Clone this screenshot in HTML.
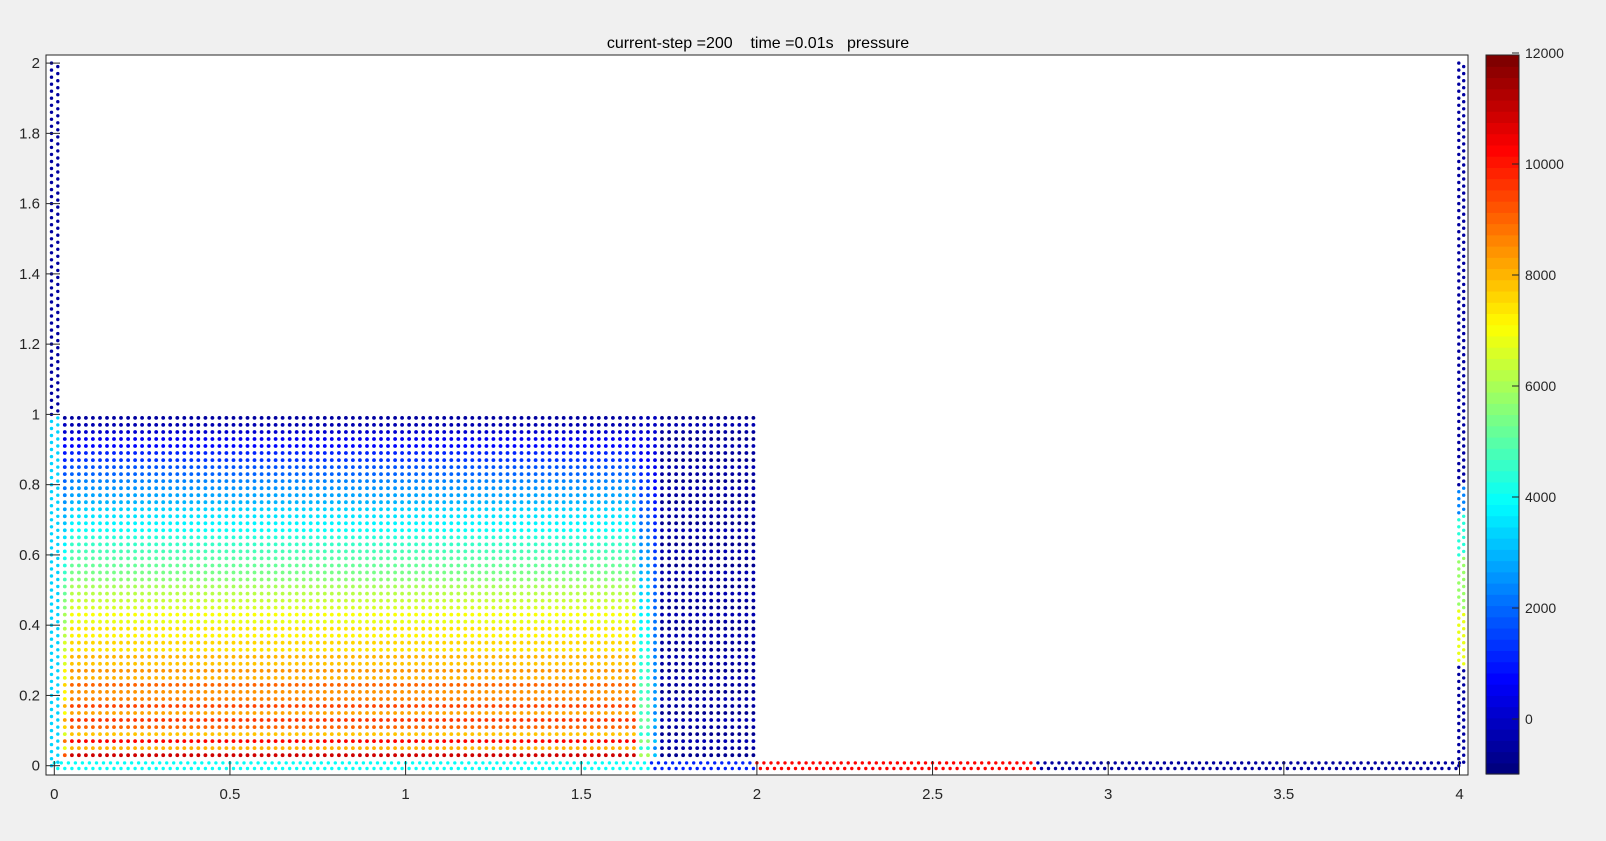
<!DOCTYPE html>
<html><head><meta charset="utf-8"><style>
html,body{margin:0;padding:0;background:#f0f0f0;}
svg{display:block;font-family:"Liberation Sans",Arial,sans-serif;}
</style></head><body>
<svg id="fig" width="1606" height="841" viewBox="0 0 1606 841">
<rect x="0" y="0" width="1606" height="841" fill="#f0f0f0"/>
<rect x="46" y="55" width="1422" height="720" fill="#ffffff"/>
<g id="dots"></g>
<rect x="46" y="55" width="1422" height="720" fill="none" stroke="#262626" stroke-width="1"/>
<g id="axes"></g>
<g id="cbar"></g>
<text x="758" y="48" font-size="16" text-anchor="middle" fill="#000" xml:space="preserve">current-step =200    time =0.01s   pressure</text>
</svg>
<script>
// ---- data ----
const xTicks = [0, 0.5, 1, 1.5, 2, 2.5, 3, 3.5, 4];
const xTickLabels = ["0", "0.5", "1", "1.5", "2", "2.5", "3", "3.5", "4"];
const yTicks = [0, 0.2, 0.4, 0.6, 0.8, 1, 1.2, 1.4, 1.6, 1.8, 2];
const yTickLabels = ["0", "0.2", "0.4", "0.6", "0.8", "1", "1.2", "1.4", "1.6", "1.8", "2"];
const cTicks = [0, 2000, 4000, 6000, 8000, 10000, 12000];
const cTickLabels = ["0", "2000", "4000", "6000", "8000", "10000", "12000"];
const cRange = [-990, 12000];
const fluidRowY0 = 0.03, fluidStep = 0.02, fluidCols = 99;
const rowPressure = [10800,8000,10300,7800,9000,9600,8200,9400,8600,8400,
  9000,8000,8500,7900,8100,7500,7700,7200,7400,6900,
  7000,6600,6500,6200,6000,5700,5500,5200,5000,4700,
  4500,4300,4000,3800,3500,3300,3000,2800,2500,2300,
  2000,1700,1400,1100,800,500,200,-200,-500];
const colBreaks = [0.0, 0.04, 1.66, 1.695, 1.72, 2.1];
const colScale = [0.85, 1.0, 0.55, 0.3, 0.0];
const colFloor = [0, 0, 0, 0, -600];
const leftWallBreaks = [0, 1.0, 2.01];
const leftWallP = [3300, -400];
const rightWallBreaks = [0, 0.29, 0.45, 0.6, 0.72, 0.8, 2.01];
const rightWallP = [-500, 6800, 5800, 4300, 2300, -500];
const bottomWallBreaks = [0, 1.7, 2.0, 2.8, 4.02];
const bottomWallP = [4000, 1200, 10300, -500];

const X = v => 54.3 + v * 351.3;
const Y = v => 765.7 - v * 351.3;
const CY = v => 719 - v * 0.0555;
const NS = "http://www.w3.org/2000/svg";
function jet(t) {
  t = Math.max(0, Math.min(1, t));
  t = Math.min(63, Math.floor(t * 64)) / 63;
  const f = a => Math.max(0, Math.min(1, a));
  const r = f(1.5 - Math.abs(4 * t - 3)), g = f(1.5 - Math.abs(4 * t - 2)), b = f(1.5 - Math.abs(4 * t - 1));
  return `rgb(${Math.round(r*255)},${Math.round(g*255)},${Math.round(b*255)})`;
}
const col = p => jet((p - cRange[0]) / (cRange[1] - cRange[0]));
function seg(breaks, vals, v) {
  for (let i = 0; i < vals.length; i++) if (v >= breaks[i] && v < breaks[i+1]) return vals[i];
  return vals[vals.length - 1];
}
const dots = document.getElementById('dots');
let html = '';
function dot(x, y, p, r) {
  html += `<circle cx="${X(x).toFixed(1)}" cy="${Y(y).toFixed(1)}" r="${r}" fill="${col(p)}"/>`;
}
for (let j = 0; j < rowPressure.length; j++) {
  const y = fluidRowY0 + j * fluidStep;
  for (let i = 0; i < fluidCols; i++) {
    const x = fluidRowY0 + i * fluidStep;
    const k = colBreaks.findIndex((b, n) => x >= b && x < colBreaks[n+1]);
    const s = colScale[k], fl = colFloor[k];
    const p = rowPressure[j] * s + fl * (1 - Math.min(1, Math.abs(s))) + (s === 0 ? (j % 3) * 150 : 0);
    dot(x, y, p, 1.9);
  }
}
for (let n = 0; n <= 200; n++) {
  const y = n * 0.01;
  dot(n % 2 ? 0.01 : -0.008, y, seg(leftWallBreaks, leftWallP, y), 1.7);
}
for (let n = 0; n <= 200; n++) {
  const y = n * 0.01;
  dot(n % 2 ? 4.012 : 3.998, y, seg(rightWallBreaks, rightWallP, y), 1.7);
}
for (let n = 0; n <= 400; n++) {
  const x = n * 0.01;
  dot(x, n % 2 ? -0.008 : 0.008, seg(bottomWallBreaks, bottomWallP, x), 1.7);
}
dots.innerHTML = html;

const axes = document.getElementById('axes');
function el(tag, attrs, parent, text) {
  const e = document.createElementNS(NS, tag);
  for (const k in attrs) e.setAttribute(k, attrs[k]);
  if (text !== undefined) e.textContent = text;
  parent.appendChild(e);
  return e;
}
xTicks.forEach((v, i) => {
  const t = el('line', {x1: X(v), x2: X(v), y1: 775, y2: 761, stroke: '#262626'}, axes);
  
  
  const l = el('text', {x: X(v), y: 799, 'font-size': 15, 'text-anchor': 'middle', fill: '#262626'}, axes, xTickLabels[i]);
  
  
});
yTicks.forEach((v, i) => {
  const t = el('line', {x1: 46, x2: 60, y1: Y(v), y2: Y(v), stroke: '#262626'}, axes);
  
  
  const l = el('text', {x: 40, y: Y(v) + 5, 'font-size': 15, 'text-anchor': 'end', fill: '#262626'}, axes, yTickLabels[i]);
  
  
});

const cb = document.getElementById('cbar');
const cTop = 55, cBot = 774;
for (let k = 0; k < 64; k++) {
  const y0 = cBot - (k + 1) * (cBot - cTop) / 64;
  const r = el('rect', {x: 1486, y: y0, width: 33, height: (cBot - cTop) / 64 + 0.6, fill: jet(k / 63)}, cb);
  
  
}
const frame = el('rect', {x: 1486, y: cTop, width: 33, height: cBot - cTop, fill: 'none', stroke: '#262626'}, cb);


cTicks.forEach((v, i) => {
  const t = el('line', {x1: 1512, x2: 1519, y1: CY(v), y2: CY(v), stroke: '#262626'}, cb);
  
  
  const l = el('text', {x: 1525, y: CY(v) + 5, 'font-size': 14, fill: '#262626'}, cb, cTickLabels[i]);
  
  
});
</script>
</body></html>
